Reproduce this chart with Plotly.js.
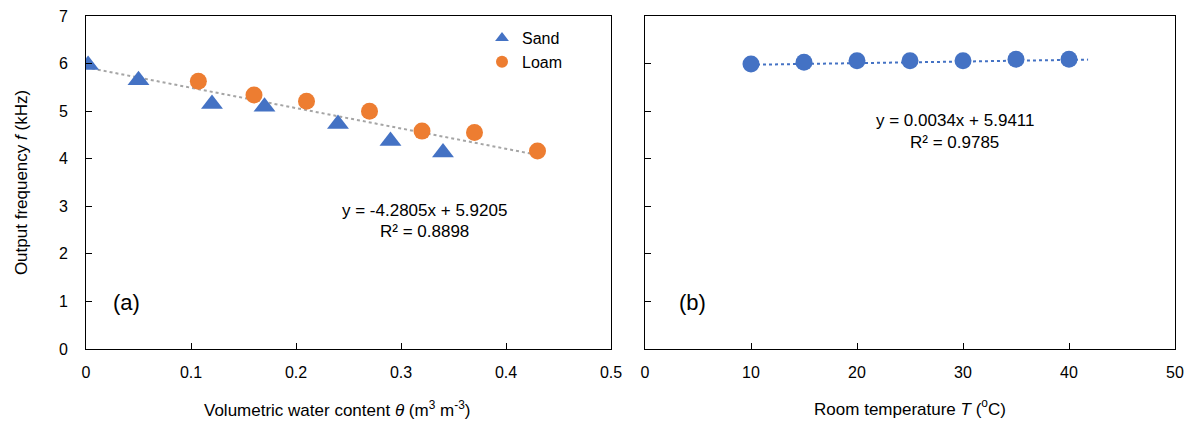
<!DOCTYPE html>
<html><head><meta charset="utf-8">
<script src="https://cdn.plot.ly/plotly-3.0.1.min.js"></script>
<style>html,body{margin:0;padding:0;background:#fff;}#chart{width:1193px;height:425px;}</style>
</head><body><div id="chart"></div>
<script>
// Panel (a): output frequency vs volumetric water content
const sandTheta = [0.002, 0.05, 0.12, 0.17, 0.24, 0.29, 0.34];
const sandFreq  = [5.97, 5.65, 5.15, 5.09, 4.73, 4.37, 4.13];
const loamTheta = [0.107, 0.16, 0.21, 0.27, 0.32, 0.37, 0.43];
const loamFreq  = [5.63, 5.34, 5.21, 5.00, 4.58, 4.55, 4.16];
const trendATheta = [0, 0.43];
const trendAFreq  = [5.92, 4.08];
// Panel (b): output frequency vs room temperature
const tempT    = [10, 15, 20, 25, 30, 35, 40];
const tempFreq = [5.99, 6.03, 6.06, 6.06, 6.06, 6.09, 6.09];
const trendBT    = [10, 41.8];
const trendBFreq = [5.975, 6.083];
const eqA = ['y = -4.2805x + 5.9205', 'R² = 0.8898'];
const eqB = ['y = 0.0034x + 5.9411', 'R² = 0.9785'];
const seriesNames = ['Sand', 'Loam'];
const xTicksA = [0, 0.1, 0.2, 0.3, 0.4, 0.5];
const xTickTextA = ['0', '0.1', '0.2', '0.3', '0.4', '0.5'];
const xTicksB = [0, 10, 20, 30, 40, 50];
const yTicks = [0, 1, 2, 3, 4, 5, 6, 7];

const BLUE = '#4472C4', ORANGE = '#ED7D31', GRAY = '#A5A5A5';
const FONT = 'Liberation Sans, Arial, sans-serif';
const W = 1193, H = 425;
const M = {l: 0, r: 0, t: 16, b: 76};
const PH = H - M.t - M.b;

const traces = [
  {x: trendATheta, y: trendAFreq, mode: 'lines', line: {color: GRAY, dash: 'dot', width: 2}, showlegend: false, xaxis: 'x', yaxis: 'y', hoverinfo: 'skip'},
  {x: sandTheta, y: sandFreq, mode: 'markers', name: seriesNames[0], marker: {symbol: 'triangle-up', size: 19, color: BLUE}, showlegend: false, xaxis: 'x', yaxis: 'y'},
  {x: loamTheta, y: loamFreq, mode: 'markers', name: seriesNames[1], marker: {symbol: 'circle', size: 17, color: ORANGE}, showlegend: false, xaxis: 'x', yaxis: 'y'},
  // legend entries (no data points, smaller legend symbols like the reference)
  {x: [null], y: [null], mode: 'markers', name: seriesNames[0], marker: {symbol: 'triangle-up', size: 12, color: BLUE}, xaxis: 'x', yaxis: 'y'},
  {x: [null], y: [null], mode: 'markers', name: seriesNames[1], marker: {symbol: 'circle', size: 12, color: ORANGE}, xaxis: 'x', yaxis: 'y'},
  {x: trendBT, y: trendBFreq, mode: 'lines', line: {color: BLUE, dash: 'dot', width: 2}, showlegend: false, xaxis: 'x2', yaxis: 'y2', hoverinfo: 'skip'},
  {x: tempT, y: tempFreq, mode: 'markers', marker: {symbol: 'circle', size: 17, color: BLUE}, showlegend: false, xaxis: 'x2', yaxis: 'y2'}
];

const axBase = {
  showgrid: false, zeroline: false, showline: true, linecolor: '#000', linewidth: 1, mirror: true,
  tickfont: {family: FONT, size: 16, color: '#000'}, tickcolor: '#000', ticklen: 6, ticks: 'inside'
};

const layout = {
  width: W, height: H,
  margin: M,
  paper_bgcolor: '#fff', plot_bgcolor: '#fff',
  font: {family: FONT, size: 16, color: '#000'},
  showlegend: true,
  legend: {x: 482 / W, y: 1 - 5 / PH, xanchor: 'left', yanchor: 'top', bgcolor: 'rgba(0,0,0,0)',
           font: {family: FONT, size: 16, color: '#000'}, tracegroupgap: 0},
  xaxis: Object.assign({}, axBase, {domain: [86 / W, 611 / W], range: [0, 0.5], tickvals: xTicksA, ticktext: xTickTextA, ticklabelstandoff: 9}),
  yaxis: Object.assign({}, axBase, {domain: [0, 1], range: [0, 7], tickvals: yTicks, ticklabelstandoff: 14,
    title: {text: 'Output frequency <i>f</i> (kHz)', font: {family: FONT, size: 17}, standoff: 26}}),
  xaxis2: Object.assign({}, axBase, {domain: [645 / W, 1175 / W], range: [0, 50], tickvals: xTicksB, anchor: 'y2', ticklabelstandoff: 9,
    title: {text: 'Room temperature <i>T</i> (<sup>o</sup>C)', font: {family: FONT, size: 17}, standoff: 22}}),
  yaxis2: Object.assign({}, axBase, {domain: [0, 1], range: [0, 7], tickvals: yTicks, showticklabels: false, anchor: 'x2'}),
  annotations: [
    {xref: 'paper', yref: 'paper', x: 337 / W, y: -(409 - (H - M.b)) / PH, yanchor: 'middle', xanchor: 'center',
     text: 'Volumetric water content <i>θ</i> (m<sup>3</sup> m<sup>-3</sup>)', showarrow: false, font: {family: FONT, size: 17}},
    {xref: 'x', yref: 'y', x: 0.3224, y: 2.92, text: eqA[0], showarrow: false, font: {family: FONT, size: 17}},
    {xref: 'x', yref: 'y', x: 0.3224, y: 2.48, text: eqA[1], showarrow: false, font: {family: FONT, size: 17}},
    {xref: 'x2', yref: 'y2', x: 29.2, y: 4.81, text: eqB[0], showarrow: false, font: {family: FONT, size: 17}},
    {xref: 'x2', yref: 'y2', x: 29.2, y: 4.35, text: eqB[1], showarrow: false, font: {family: FONT, size: 17}},
    {xref: 'x', yref: 'y', x: 0.0385, y: 0.98, text: '(a)', showarrow: false, font: {family: FONT, size: 22}},
    {xref: 'x2', yref: 'y2', x: 4.5, y: 0.98, text: '(b)', showarrow: false, font: {family: FONT, size: 22}}
  ]
};

Plotly.newPlot('chart', traces, layout, {displayModeBar: false, staticPlot: true});
</script></body></html>
